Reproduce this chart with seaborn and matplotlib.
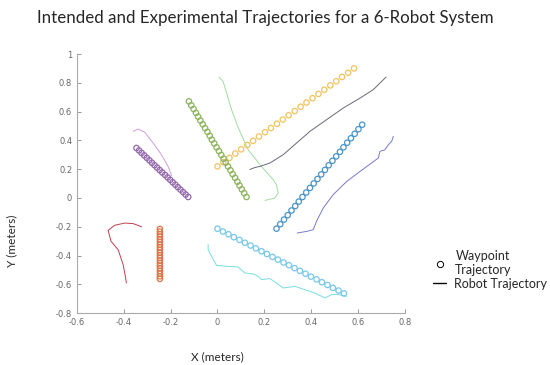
import matplotlib
matplotlib.use("Agg")
import matplotlib.pyplot as plt
import seaborn as sns
from matplotlib.lines import Line2D

# waypoint trajectories (circles)
wp_purple_x = [-0.346, -0.335, -0.324, -0.313, -0.302, -0.291, -0.280, -0.269, -0.258, -0.247, -0.236,
               -0.224, -0.213, -0.202, -0.191, -0.180, -0.169, -0.158, -0.147, -0.136, -0.125]
wp_purple_y = [0.347, 0.330, 0.313, 0.296, 0.279, 0.262, 0.245, 0.228, 0.211, 0.194, 0.177,
               0.160, 0.143, 0.126, 0.109, 0.092, 0.075, 0.058, 0.041, 0.024, 0.007]
wp_green_x = [-0.122, -0.112, -0.102, -0.092, -0.083, -0.073, -0.063, -0.053, -0.043, -0.033, -0.024, -0.014, -0.004,
              0.006, 0.016, 0.026, 0.035, 0.045, 0.055, 0.065, 0.075, 0.085, 0.094, 0.104, 0.114, 0.124]
wp_green_y = [0.671, 0.644, 0.618, 0.591, 0.565, 0.538, 0.512, 0.485, 0.459, 0.432, 0.405, 0.379, 0.352,
              0.326, 0.299, 0.273, 0.246, 0.219, 0.193, 0.166, 0.140, 0.113, 0.087, 0.060, 0.034, 0.007]
wp_yellow_x = [0.000, 0.025, 0.051, 0.076, 0.101, 0.127, 0.152, 0.177, 0.203, 0.228, 0.254, 0.279,
               0.304, 0.330, 0.355, 0.380, 0.406, 0.431, 0.456, 0.482, 0.507, 0.532, 0.558, 0.583]
wp_yellow_y = [0.220, 0.250, 0.279, 0.309, 0.338, 0.368, 0.397, 0.427, 0.457, 0.486, 0.516, 0.545,
               0.575, 0.604, 0.634, 0.663, 0.693, 0.723, 0.752, 0.782, 0.811, 0.841, 0.870, 0.900]
wp_blue_x = [0.252, 0.268, 0.284, 0.300, 0.316, 0.332, 0.347, 0.363, 0.379, 0.395, 0.411, 0.427,
             0.443, 0.459, 0.475, 0.491, 0.507, 0.523, 0.538, 0.554, 0.570, 0.586, 0.602, 0.618]
wp_blue_y = [-0.213, -0.182, -0.150, -0.119, -0.087, -0.056, -0.025, 0.007, 0.038, 0.070, 0.101, 0.132,
             0.164, 0.195, 0.227, 0.258, 0.289, 0.321, 0.352, 0.384, 0.415, 0.446, 0.478, 0.509]
wp_cyan_x = [0.000, 0.023, 0.047, 0.070, 0.094, 0.117, 0.141, 0.164, 0.188, 0.211, 0.235, 0.258,
             0.282, 0.305, 0.329, 0.352, 0.376, 0.399, 0.423, 0.446, 0.470, 0.493, 0.517, 0.540]
wp_cyan_y = [-0.213, -0.233, -0.252, -0.272, -0.291, -0.311, -0.330, -0.350, -0.370, -0.389, -0.409, -0.428,
             -0.448, -0.467, -0.487, -0.506, -0.526, -0.546, -0.565, -0.585, -0.604, -0.624, -0.643, -0.663]
wp_orange_x = [-0.246] * 20
wp_orange_y = [-0.215, -0.233, -0.252, -0.270, -0.288, -0.306, -0.325, -0.343, -0.361, -0.379,
               -0.398, -0.416, -0.434, -0.452, -0.471, -0.489, -0.507, -0.525, -0.544, -0.562]

# robot trajectories (lines)
rb_purple_x = [-0.360, -0.339, -0.310, -0.275, -0.239, -0.211, -0.196]
rb_purple_y = [0.463, 0.479, 0.456, 0.382, 0.300, 0.219, 0.155]
rb_green_x = [0.006, 0.024, 0.039, 0.060, 0.089, 0.131, 0.188, 0.238, 0.252, 0.259, 0.245, 0.203]
rb_green_y = [0.840, 0.810, 0.729, 0.613, 0.486, 0.335, 0.219, 0.127, 0.092, 0.035, 0.000, -0.017]
rb_gray_x = [0.138, 0.160, 0.181, 0.224, 0.281, 0.338, 0.395, 0.466, 0.537, 0.609, 0.665, 0.720]
rb_gray_y = [0.198, 0.212, 0.219, 0.243, 0.301, 0.382, 0.463, 0.544, 0.625, 0.694, 0.752, 0.840]
rb_blue_x = [0.341, 0.381, 0.409, 0.423, 0.452, 0.494, 0.552, 0.609, 0.658, 0.687, 0.694, 0.715, 0.730, 0.744, 0.751]
rb_blue_y = [-0.243, -0.232, -0.220, -0.162, -0.069, 0.023, 0.115, 0.185, 0.243, 0.278, 0.324, 0.335, 0.370, 0.394, 0.428]
rb_cyan_x = [-0.040, -0.040, -0.018, -0.004, 0.046, 0.088, 0.117, 0.153, 0.174, 0.188, 0.224, 0.252,
             0.281, 0.331, 0.373, 0.415, 0.459, 0.488, 0.516, 0.552]
rb_cyan_y = [-0.324, -0.359, -0.428, -0.468, -0.475, -0.479, -0.521, -0.528, -0.544, -0.567, -0.560, -0.590,
             -0.625, -0.614, -0.637, -0.660, -0.694, -0.671, -0.671, -0.683]
rb_red_x = [-0.324, -0.360, -0.396, -0.440, -0.467, -0.455, -0.424, -0.403, -0.395, -0.389]
rb_red_y = [-0.200, -0.178, -0.174, -0.190, -0.225, -0.300, -0.360, -0.463, -0.530, -0.590]

x_ticks = [-0.6, -0.4, -0.2, 0, 0.2, 0.4, 0.6, 0.8]
x_tick_labels = ["-0.6", "-0.4", "-0.2", "0", "0.2", "0.4", "0.6", "0.8"]
y_ticks = [-0.8, -0.6, -0.4, -0.2, 0, 0.2, 0.4, 0.6, 0.8, 1]
y_tick_labels = ["-0.8", "-0.6", "-0.4", "-0.2", "0", "0.2", "0.4", "0.6", "0.8", "1"]

sns.set_style("ticks")
plt.rcParams["xtick.direction"] = "in"
plt.rcParams["ytick.direction"] = "in"

fig = plt.figure(figsize=(5.5, 3.65), dpi=100)
ax = fig.add_axes([0.14, 0.142, 0.596, 0.71])

waypoints = [
    (wp_blue_x, wp_blue_y, "#4a94c8"),
    (wp_orange_x, wp_orange_y, "#dc7448"),
    (wp_yellow_x, wp_yellow_y, "#efc460"),
    (wp_purple_x, wp_purple_y, "#9468ac"),
    (wp_green_x, wp_green_y, "#8cb45c"),
    (wp_cyan_x, wp_cyan_y, "#78c8e8"),
]
for wx, wy, c in waypoints:
    sns.scatterplot(x=wx, y=wy, ax=ax, marker="o", s=15, facecolors="none",
                    edgecolor=c, linewidth=0.9, zorder=3)

robots = [
    (rb_purple_x, rb_purple_y, "#cc9edc"),
    (rb_green_x, rb_green_y, "#a0dca0"),
    (rb_gray_x, rb_gray_y, "#686878"),
    (rb_blue_x, rb_blue_y, "#7878cc"),
    (rb_cyan_x, rb_cyan_y, "#78dee2"),
    (rb_red_x, rb_red_y, "#bc4050"),
]
for rx, ry, c in robots:
    sns.lineplot(x=rx, y=ry, ax=ax, sort=False, estimator=None, color=c, linewidth=0.7)

ax.set_xlim(-0.6, 0.8)
ax.set_ylim(-0.8, 1)
ax.set_xticks(x_ticks)
ax.set_xticklabels(x_tick_labels)
ax.set_yticks(y_ticks)
ax.set_yticklabels(y_tick_labels)
ax.tick_params(labelsize=6, colors="#888888", length=3, width=0.6, labelcolor="#666666")
sns.despine(ax=ax)
for s in ["left", "bottom"]:
    ax.spines[s].set_color("#aaaaaa")
    ax.spines[s].set_linewidth(0.8)
ax.set_xlabel("")
ax.set_ylabel("")

fig.text(0.483, 0.95, "Intended and Experimental Trajectories for a 6-Robot System",
         ha="center", va="center", fontsize=12.2, family="Lato")
fig.text(0.395, 0.022, "X (meters)", ha="center", va="center", fontsize=8.5, family="Lato")
fig.text(0.022, 0.34, "Y (meters)", ha="center", va="center", fontsize=8.5, family="Lato", rotation=90)

handles = [
    Line2D([], [], marker="o", linestyle="none", markerfacecolor="none",
           markeredgecolor="black", markersize=4.5, markeredgewidth=0.7),
    Line2D([], [], color="black", linewidth=1.0),
]
leg = fig.legend(handles, ["Waypoint\nTrajectory", "Robot Trajectory"], loc="center right",
                 bbox_to_anchor=(1.0, 0.26), frameon=False, prop={"family": "Lato", "size": 9},
                 handlelength=1.0, handletextpad=0.7, labelspacing=0.1, borderpad=0.1,
                 borderaxespad=0.1)
for t in leg.get_texts():
    t.set_multialignment("center")

plt.savefig("out.png", dpi=100)
